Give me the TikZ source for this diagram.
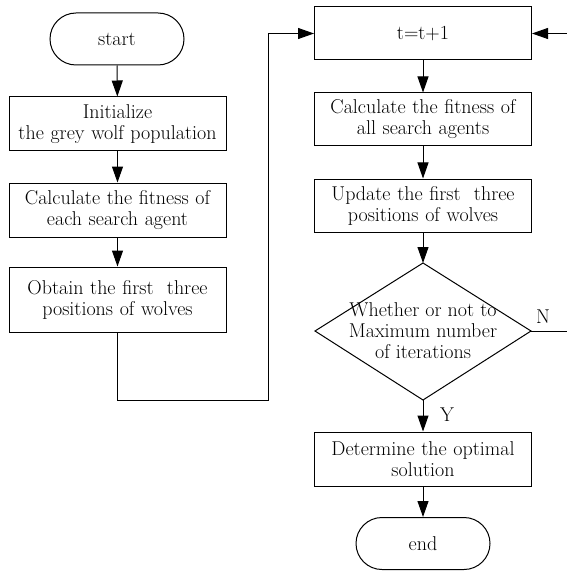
\documentclass[tikz,border=0pt]{standalone}
\usetikzlibrary{arrows.meta}
\begin{document}
\begin{tikzpicture}[x=1pt,y=-1pt,
  every node/.style={font=\fontsize{20}{21}\selectfont, align=center, inner sep=2pt},
  proc/.style={draw, line width=1pt, minimum width=217pt, text width=212pt},
  term/.style={draw, line width=1pt, rounded corners=26pt, minimum width=134pt, minimum height=52pt},
  dec/.style={draw, line width=1pt},
  arr/.style={line width=1pt, -{Triangle[length=16pt,width=11pt]}},
  ln/.style={line width=1pt}
]
\useasboundingbox (0,0) rectangle (566,572);
% left column
\node[term] (start) at (117,39) {start};
\node[proc, minimum height=54pt] (init) at (117.5,124) {Initialize\\the grey wolf population};
\node[proc, minimum height=54pt] (calc) at (117.5,210) {Calculate the fitness of\\each search agent};
\node[proc, minimum height=65pt] (obt) at (117.5,299.5) {Obtain the first\ \ three\\positions of wolves};
% right column
\node[proc, minimum height=53pt] (t) at (423,33.5) {t=t+1};
\node[proc, minimum height=53pt] (call) at (423,119.5) {Calculate the fitness of\\all search agents};
\node[proc, minimum height=53pt] (upd) at (423,205.5) {Update the first\ \ three\\positions of wolves};
\coordinate (dtop) at (423,263);
\coordinate (dbot) at (423,400);
\coordinate (dl) at (315,331);
\coordinate (dr) at (531,331);
\draw[dec] (dtop) -- (dr) -- (dbot) -- (dl) -- cycle;
\node (dtext) at (423,331) {Whether or not to\\Maximum number\\of iterations};
\node[proc, minimum height=54pt] (det) at (423,459) {Determine the optimal\\solution};
\node[term] (end) at (423,543.5) {end};
% connectors
\draw[arr] (start) -- (init);
\draw[arr] (init) -- (calc);
\draw[arr] (calc) -- (obt);
\coordinate (c1) at (268,400);
\coordinate (c2) at (580,331);
\draw[arr] (obt.south) |- (c1) |- (t.west);
\draw[arr] (t) -- (call);
\draw[arr] (call) -- (upd);
\draw[arr] (upd) -- (dtop);
\draw[arr] (dbot) -- (det);
\node (ylab) at (447,415) {Y};
\draw[arr] (det) -- (end);
\draw[ln] (dr) -- (c2);
\draw[arr] (c2) |- (t.east);
\node (nlab) at (543,317) {N};
\end{tikzpicture}
\end{document}
